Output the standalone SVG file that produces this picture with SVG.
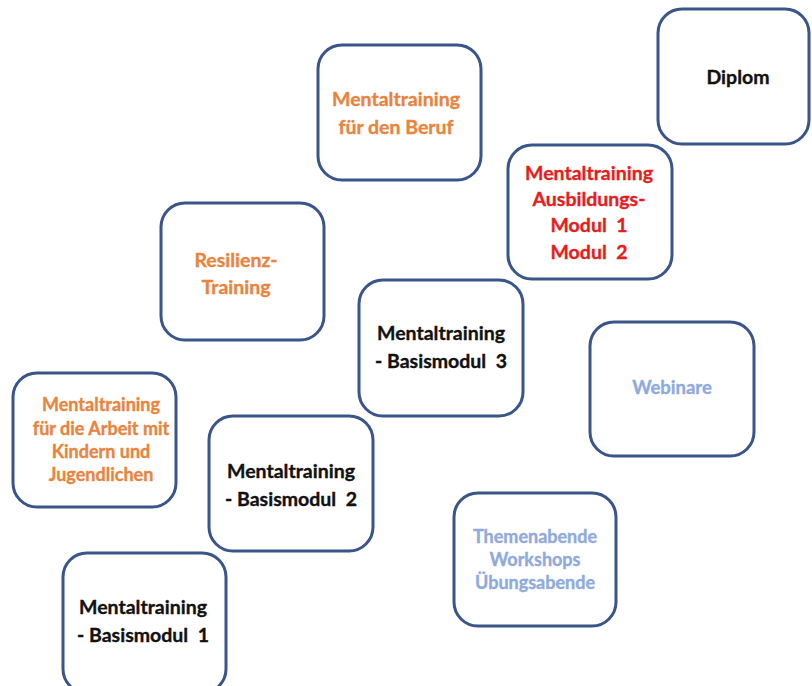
<svg xmlns="http://www.w3.org/2000/svg" width="812" height="686" viewBox="0 0 812 686">
<style>
.box{fill:#ffffff;stroke:#3a5589;stroke-width:3}
text{font-family:Lato,"Open Sans","Liberation Sans",sans-serif;font-weight:bold;text-anchor:middle;font-size:19.5px;stroke-width:0.35px}
.o{fill:#e8843e;stroke:#e8843e}
.r{fill:#e41e1e;stroke:#e41e1e}
.k{fill:#111111;stroke:#111111}
.b{fill:#8faadc;stroke:#8faadc}
.s{font-size:18px}
.w{font-size:18.5px}
</style>
<rect width="812" height="686" fill="#ffffff"/>
<g id="connectors"/>
<g id="n1"><rect class="box" x="318" y="45" width="163" height="135" rx="24"/>
<text class="o" x="396" y="106">Mentaltraining</text><text class="o" x="396" y="134">für den Beruf</text></g>
<g id="n2"><rect class="box" x="658" y="9" width="151" height="135" rx="24"/>
<text class="k" x="738" y="84">Diplom</text></g>
<g id="n3"><rect class="box" x="508" y="145" width="164" height="134" rx="24"/>
<text class="r" x="589" y="180">Mentaltraining</text><text class="r" x="589" y="206">Ausbildungs-</text><text class="r" x="589" y="232" xml:space="preserve">Modul  1</text><text class="r" x="589" y="259" xml:space="preserve">Modul  2</text></g>
<g id="n4"><rect class="box" x="161" y="203" width="163" height="137" rx="24"/>
<text class="o" x="236" y="267">Resilienz-</text><text class="o" x="236" y="294">Training</text></g>
<g id="n5"><rect class="box" x="359" y="280" width="164" height="136" rx="24"/>
<text class="k" x="441" y="340">Mentaltraining</text><text class="k" x="441" y="368" xml:space="preserve">- Basismodul  3</text></g>
<g id="n6"><rect class="box" x="590" y="322" width="164" height="134" rx="24"/>
<text class="b w" x="672" y="394">Webinare</text></g>
<g id="n7"><rect class="box" x="13" y="373" width="163" height="134" rx="24"/>
<text class="o s" x="101" y="411">Mentaltraining</text><text class="o s" x="101" y="435">für die Arbeit mit</text><text class="o s" x="101" y="458">Kindern und</text><text class="o s" x="101" y="481">Jugendlichen</text></g>
<g id="n8"><rect class="box" x="209" y="416" width="164" height="135" rx="24"/>
<text class="k" x="291" y="478">Mentaltraining</text><text class="k" x="291" y="506" xml:space="preserve">- Basismodul  2</text></g>
<g id="n9"><rect class="box" x="454" y="493" width="162" height="133" rx="24"/>
<text class="b s" x="535" y="543">Themenabende</text><text class="b s" x="535" y="566">Workshops</text><text class="b s" x="535" y="589">Übungsabende</text></g>
<g id="n10"><rect class="box" x="63" y="553" width="163" height="140" rx="24"/>
<text class="k" x="143" y="614">Mentaltraining</text><text class="k" x="143" y="642" xml:space="preserve">- Basismodul  1</text></g>
</svg>
